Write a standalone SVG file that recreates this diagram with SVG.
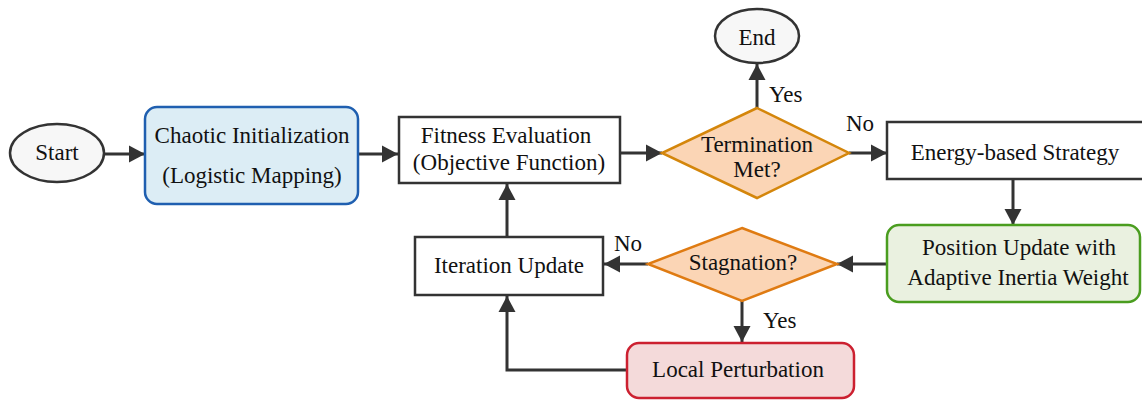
<svg xmlns="http://www.w3.org/2000/svg" width="1142" height="401" viewBox="0 0 1142 401">
  <defs>
    <marker id="arrow" markerWidth="16" markerHeight="18" refX="16" refY="9" orient="auto" markerUnits="userSpaceOnUse">
      <path d="M0,0.5 L16,9 L0,17.5 Z" fill="#333333"/>
    </marker>
    <style>
      text { font-family: "Liberation Serif", "Times New Roman", serif; font-size: 23px; fill: #111111; text-anchor: middle; }
      .term { fill: #f7f7f7; stroke: #333333; stroke-width: 2.5; }
      .proc { fill: #ffffff; stroke: #333333; stroke-width: 2.5; }
      .dec { fill: #fbd5b5; stroke-width: 2.5; }
      .edge { fill: none; stroke: #333333; stroke-width: 3; }
      .lbl { text-anchor: start; }
    </style>
  </defs>

  <rect width="1142" height="401" fill="#ffffff"/>

  <!-- connectors -->
  <g id="edges">
    <line class="edge" x1="104" y1="154" x2="145" y2="154" marker-end="url(#arrow)"/>
    <line class="edge" x1="358" y1="154" x2="398" y2="154" marker-end="url(#arrow)"/>
    <line class="edge" x1="620" y1="153" x2="662" y2="153" marker-end="url(#arrow)"/>
    <line class="edge" x1="757" y1="108" x2="757" y2="64" marker-end="url(#arrow)"/>
    <line class="edge" x1="849" y1="153" x2="887" y2="153" marker-end="url(#arrow)"/>
    <line class="edge" x1="1013" y1="179" x2="1013" y2="225" marker-end="url(#arrow)"/>
    <line class="edge" x1="887" y1="264" x2="837" y2="264" marker-end="url(#arrow)"/>
    <line class="edge" x1="648" y1="264" x2="604" y2="264" marker-end="url(#arrow)"/>
    <line class="edge" x1="507" y1="237" x2="507" y2="184" marker-end="url(#arrow)"/>
    <line class="edge" x1="742" y1="301" x2="742" y2="342" marker-end="url(#arrow)"/>
    <polyline class="edge" points="627,370 507,370 507,296" marker-end="url(#arrow)"/>
    <text class="lbl" x="769" y="102">Yes</text>
    <text class="lbl" x="846" y="131">No</text>
    <text class="lbl" x="614" y="251">No</text>
    <text class="lbl" x="763" y="328">Yes</text>
  </g>

  <g id="start">
    <ellipse class="term" cx="57" cy="153" rx="47" ry="29"/>
    <text x="57" y="160">Start</text>
  </g>

  <g id="chaotic-init">
    <rect x="145" y="107" width="213" height="97" rx="12" fill="#dcedf5" stroke="#1f5fb0" stroke-width="2.5"/>
    <text x="252" y="143">Chaotic Initialization</text>
    <text x="252" y="183">(Logistic Mapping)</text>
  </g>

  <g id="fitness">
    <rect class="proc" x="399" y="117" width="221" height="66"/>
    <text x="506" y="143">Fitness Evaluation</text>
    <text x="509" y="170">(Objective Function)</text>
  </g>

  <g id="termination">
    <polygon class="dec" stroke="#d4860b" points="757,108 849,153 757,198 662,153"/>
    <text x="757" y="152">Termination</text>
    <text x="757" y="177">Met?</text>
  </g>

  <g id="end">
    <ellipse class="term" cx="757" cy="36" rx="42" ry="27"/>
    <text x="757" y="45">End</text>
  </g>

  <g id="energy">
    <rect class="proc" x="887" y="122" width="258" height="57"/>
    <text x="1015" y="160">Energy-based Strategy</text>
  </g>

  <g id="position-update">
    <rect x="887" y="225" width="253" height="77" rx="12" fill="#eaf1e0" stroke="#4a9d1f" stroke-width="2.5"/>
    <text x="1019" y="255">Position Update with</text>
    <text x="1018" y="285">Adaptive Inertia Weight</text>
  </g>

  <g id="stagnation">
    <polygon class="dec" stroke="#df7b12" points="742,228 837,264 742,301 648,264"/>
    <text x="743" y="270">Stagnation?</text>
  </g>

  <g id="iteration">
    <rect class="proc" x="415" y="237" width="188" height="58"/>
    <text x="509" y="273">Iteration Update</text>
  </g>

  <g id="local-perturbation">
    <rect x="627" y="343" width="227" height="55" rx="12" fill="#f4dada" stroke="#cc2030" stroke-width="2.5"/>
    <text x="738" y="377">Local Perturbation</text>
  </g>
</svg>
